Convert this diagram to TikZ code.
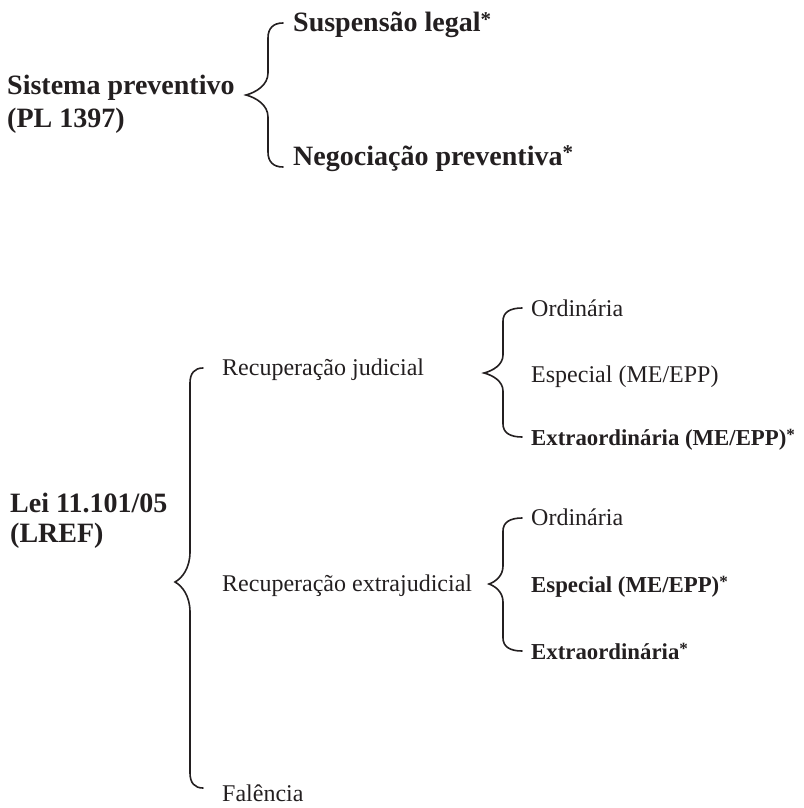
\documentclass[tikz,border=0pt]{standalone}
\usepackage{fontspec}
\setmainfont{Liberation Serif}
\definecolor{ink}{HTML}{231F20}
\newcommand{\astk}{\raisebox{0.2em}{\scalebox{0.75}{*}}}
\tikzset{
  x=1pt, y=-1pt,
  lbl/.style={anchor=base west, inner sep=0pt, text=ink, font=\fontsize{24}{28}\selectfont},
  lblb/.style={lbl, font=\fontsize{22.8}{28}\selectfont\bfseries},
  hd/.style={anchor=base west, inner sep=0pt, text=ink, font=\fontsize{28}{32}\selectfont\bfseries},
  bracepath/.style={draw=ink, line width=1.6pt, line cap=round, line join=miter}
}
% E V T Y1 Ym Y2 endr tipr
\newcommand{\curlybr}[8]{%
  \draw[bracepath] (#1,#4) .. controls ({#2+0.35*(#1-#2)},#4) and (#2,{#4+0.35*#7}) .. (#2,{#4+#7})
   -- (#2,{#5-#8})
   .. controls (#2,{#5-0.45*#8}) and ({#3+0.45*(#2-#3)},{#5-0.12*#8}) .. (#3,#5)
   .. controls ({#3+0.45*(#2-#3)},{#5+0.12*#8}) and (#2,{#5+0.45*#8}) .. (#2,{#5+#8})
   -- (#2,{#6-#7})
   .. controls (#2,{#6-0.35*#7}) and ({#2+0.35*(#1-#2)},#6) .. (#1,#6);}
\begin{document}
\begin{tikzpicture}
\useasboundingbox (0,0) rectangle (803,808);
% top section
\node[hd] (sp1) at (7,94) {Sistema preventivo};
\node[hd] (sp2) at (7,127) {(PL 1397)};
\curlybr{283}{268}{246}{23}{95}{167}{15}{22}
\node[hd] (susp) at (293,32) {Suspensão legal\astk};
\node[hd] (neg) at (293,165) {Negociação preventiva\astk};
% bottom section
\node[hd] (lei1) at (10,512) {Lei 11.101/05};
\node[hd] (lei2) at (10,542) {(LREF)};
\curlybr{203}{190}{175}{368}{582}{788}{15}{30}
\node[lbl] (rj) at (222,375) {Recuperação judicial};
\node[lbl] (re) at (222,591) {Recuperação extrajudicial};
\node[lbl] (fal) at (222,801) {Falência};
% group 1
\curlybr{522}{503}{484}{308}{373}{437}{13}{18}
\node[lbl] (o1) at (531,316) {Ordinária};
\node[lbl] (e1) at (531,382) {Especial (ME/EPP)};
\node[lblb] (x1) at (531,445) {Extraordinária (ME/EPP)\astk};
% group 2
\curlybr{522}{503}{489}{518}{584}{651}{13}{18}
\node[lbl] (o2) at (531,525) {Ordinária};
\node[lblb] (e2) at (531,592) {Especial (ME/EPP)\astk};
\node[lblb] (x2) at (531,659) {Extraordinária\astk};
\end{tikzpicture}
\end{document}
